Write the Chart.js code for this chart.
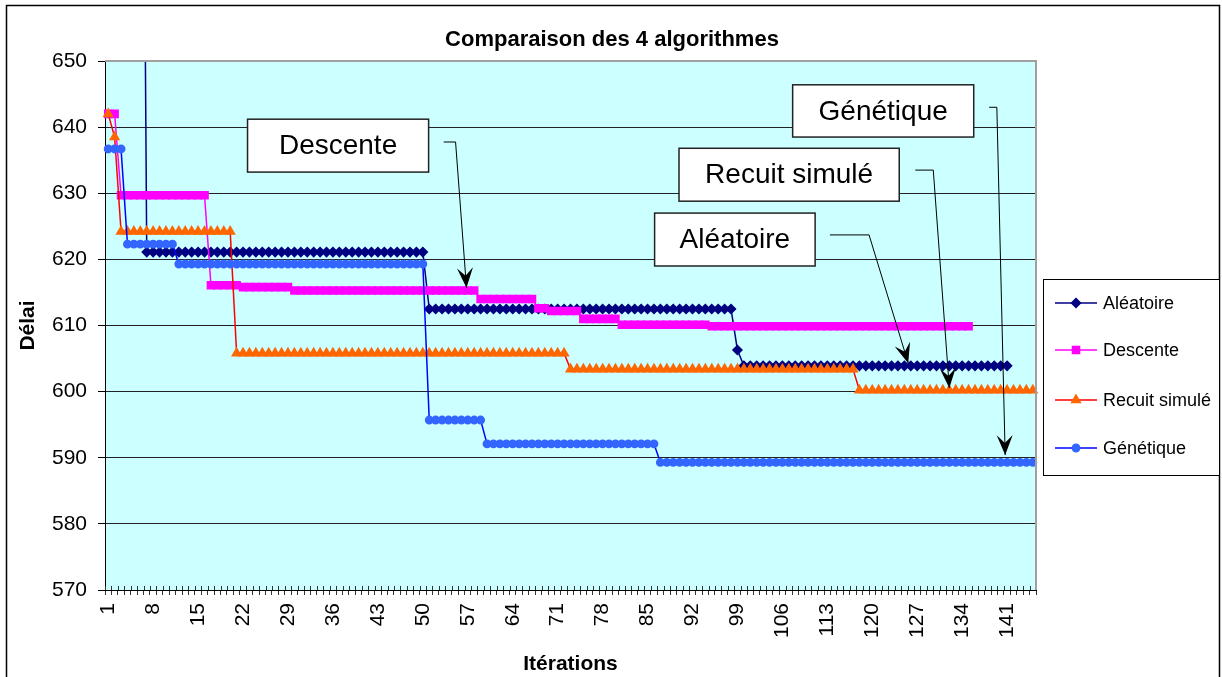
<!DOCTYPE html>
<html lang="fr">
<head>
<meta charset="utf-8">
<title>Comparaison des 4 algorithmes</title>
<script src="https://cdn.jsdelivr.net/npm/chart.js@4"></script>
<style>
  html, body { margin: 0; padding: 0; background: #fff; }
  #wrap { width: 1222px; height: 677px; }
</style>
</head>
<body>
<div id="wrap"><canvas id="algoChart" width="1222" height="677"></canvas></div>
<script>
// iterations 1..145 on the category axis
const iterations = Array.from({ length: 145 }, (_, i) => String(i + 1));

const aleatoire = [
  760, 760, 760, 760, 760, 760,
  621.1, 621.1, 621.1, 621.1, 621.1, 621.1, 621.1, 621.1, 621.1, 621.1,
  621.1, 621.1, 621.1, 621.1, 621.1, 621.1, 621.1, 621.1, 621.1, 621.1,
  621.1, 621.1, 621.1, 621.1, 621.1, 621.1, 621.1, 621.1, 621.1, 621.1,
  621.1, 621.1, 621.1, 621.1, 621.1, 621.1, 621.1, 621.1, 621.1, 621.1,
  621.1, 621.1, 621.1, 621.1,
  612.5, 612.5, 612.5, 612.5, 612.5, 612.5, 612.5, 612.5, 612.5, 612.5,
  612.5, 612.5, 612.5, 612.5, 612.5, 612.5, 612.5, 612.5, 612.5, 612.5,
  612.5, 612.5, 612.5, 612.5, 612.5, 612.5, 612.5, 612.5, 612.5, 612.5,
  612.5, 612.5, 612.5, 612.5, 612.5, 612.5, 612.5, 612.5, 612.5, 612.5,
  612.5, 612.5, 612.5, 612.5, 612.5, 612.5, 612.5, 612.5,
  606.3,
  603.9, 603.9, 603.9, 603.9, 603.9, 603.9, 603.9, 603.9, 603.9, 603.9,
  603.9, 603.9, 603.9, 603.9, 603.9, 603.9, 603.9, 603.9, 603.9, 603.9,
  603.9, 603.9, 603.9, 603.9, 603.9, 603.9, 603.9, 603.9, 603.9, 603.9,
  603.9, 603.9, 603.9, 603.9, 603.9, 603.9, 603.9, 603.9, 603.9, 603.9,
  603.9, 603.9
];

const descente = [
  642, 642,
  629.7, 629.7, 629.7, 629.7, 629.7, 629.7, 629.7, 629.7, 629.7, 629.7,
  629.7, 629.7, 629.7, 629.7,
  616.1, 616.1, 616.1, 616.1, 616.1,
  615.8, 615.8, 615.8, 615.8, 615.8, 615.8, 615.8, 615.8,
  615.3, 615.3, 615.3, 615.3, 615.3, 615.3, 615.3, 615.3, 615.3, 615.3,
  615.3, 615.3, 615.3, 615.3, 615.3, 615.3, 615.3, 615.3, 615.3, 615.3,
  615.3, 615.3, 615.3, 615.3, 615.3, 615.3, 615.3, 615.3, 615.3,
  614, 614, 614, 614, 614, 614, 614, 614, 614,
  612.6, 612.6,
  612.2, 612.2, 612.2, 612.2, 612.2,
  611, 611, 611, 611, 611, 611,
  610.1, 610.1, 610.1, 610.1, 610.1, 610.1, 610.1, 610.1, 610.1, 610.1,
  610.1, 610.1, 610.1, 610.1,
  609.9, 609.9, 609.9, 609.9, 609.9, 609.9, 609.9, 609.9, 609.9, 609.9,
  609.9, 609.9, 609.9, 609.9, 609.9, 609.9, 609.9, 609.9, 609.9, 609.9,
  609.9, 609.9, 609.9, 609.9, 609.9, 609.9, 609.9, 609.9, 609.9, 609.9,
  609.9, 609.9, 609.9, 609.9, 609.9, 609.9, 609.9, 609.9, 609.9, 609.9,
  609.9
];

const recuit = [
  642, 638.5,
  624.2, 624.2, 624.2, 624.2, 624.2, 624.2, 624.2, 624.2, 624.2, 624.2,
  624.2, 624.2, 624.2, 624.2, 624.2, 624.2, 624.2, 624.2,
  605.8, 605.8, 605.8, 605.8, 605.8, 605.8, 605.8, 605.8, 605.8, 605.8,
  605.8, 605.8, 605.8, 605.8, 605.8, 605.8, 605.8, 605.8, 605.8, 605.8,
  605.8, 605.8, 605.8, 605.8, 605.8, 605.8, 605.8, 605.8, 605.8, 605.8,
  605.8, 605.8, 605.8, 605.8, 605.8, 605.8, 605.8, 605.8, 605.8, 605.8,
  605.8, 605.8, 605.8, 605.8, 605.8, 605.8, 605.8, 605.8, 605.8, 605.8,
  605.8, 605.8,
  603.4, 603.4, 603.4, 603.4, 603.4, 603.4, 603.4, 603.4, 603.4, 603.4,
  603.4, 603.4, 603.4, 603.4, 603.4, 603.4, 603.4, 603.4, 603.4, 603.4,
  603.4, 603.4, 603.4, 603.4, 603.4, 603.4, 603.4, 603.4, 603.4, 603.4,
  603.4, 603.4, 603.4, 603.4, 603.4, 603.4, 603.4, 603.4, 603.4, 603.4,
  603.4, 603.4, 603.4, 603.4, 603.4,
  600.2, 600.2, 600.2, 600.2, 600.2, 600.2, 600.2, 600.2, 600.2, 600.2,
  600.2, 600.2, 600.2, 600.2, 600.2, 600.2, 600.2, 600.2, 600.2, 600.2,
  600.2, 600.2, 600.2, 600.2, 600.2, 600.2, 600.2, 600.2
];

const genetique = [
  636.7, 636.7, 636.7,
  622.3, 622.3, 622.3, 622.3, 622.3, 622.3, 622.3, 622.3,
  619.3, 619.3, 619.3, 619.3, 619.3, 619.3, 619.3, 619.3, 619.3, 619.3,
  619.3, 619.3, 619.3, 619.3, 619.3, 619.3, 619.3, 619.3, 619.3, 619.3,
  619.3, 619.3, 619.3, 619.3, 619.3, 619.3, 619.3, 619.3, 619.3, 619.3,
  619.3, 619.3, 619.3, 619.3, 619.3, 619.3, 619.3, 619.3, 619.3,
  595.7, 595.7, 595.7, 595.7, 595.7, 595.7, 595.7, 595.7, 595.7,
  592.1, 592.1, 592.1, 592.1, 592.1, 592.1, 592.1, 592.1, 592.1, 592.1,
  592.1, 592.1, 592.1, 592.1, 592.1, 592.1, 592.1, 592.1, 592.1, 592.1,
  592.1, 592.1, 592.1, 592.1, 592.1, 592.1, 592.1,
  589.3, 589.3, 589.3, 589.3, 589.3, 589.3, 589.3, 589.3, 589.3, 589.3,
  589.3, 589.3, 589.3, 589.3, 589.3, 589.3, 589.3, 589.3, 589.3, 589.3,
  589.3, 589.3, 589.3, 589.3, 589.3, 589.3, 589.3, 589.3, 589.3, 589.3,
  589.3, 589.3, 589.3, 589.3, 589.3, 589.3, 589.3, 589.3, 589.3, 589.3,
  589.3, 589.3, 589.3, 589.3, 589.3, 589.3, 589.3, 589.3, 589.3, 589.3,
  589.3, 589.3, 589.3, 589.3, 589.3, 589.3, 589.3, 589.3, 589.3
];

const yTicks = [570, 580, 590, 600, 610, 620, 630, 640, 650];

// text boxes with arrows, in (iteration index, délai) units
const callouts = [
  { text: "Descente", box: [21.7, 641.2, 49.9, 633.2], path: [[52.25, 637.75], [54.1, 637.75], [55.8, 615.7]] },
  { text: "Génétique", box: [106.6, 646.4, 134.8, 638.5], path: [[137.2, 643.0], [138.4, 643.0], [139.7, 590.4]] },
  { text: "Recuit simulé", box: [88.9, 636.8, 123.2, 628.8], path: [[125.7, 633.5], [128.5, 633.5], [131.0, 600.55]] },
  { text: "Aléatoire", box: [85.1, 627.0, 110.1, 619.0], path: [[112.4, 623.7], [118.5, 623.7], [124.6, 604.3]] },
];

const FONT = '"Liberation Sans", Arial, sans-serif';
Chart.defaults.font.family = FONT;
Chart.defaults.color = "#000";

function drawArrowHead(ctx, from, tip) {
  const dx = tip[0] - from[0], dy = tip[1] - from[1];
  const len = Math.hypot(dx, dy);
  const ux = dx / len, uy = dy / len;
  const nx = -uy, ny = ux;
  const L = 20, W = 16;
  ctx.beginPath();
  ctx.moveTo(tip[0], tip[1]);
  ctx.lineTo(tip[0] - ux * L + nx * W / 2, tip[1] - uy * L + ny * W / 2);
  ctx.lineTo(tip[0] - ux * L * 0.6, tip[1] - uy * L * 0.6);
  ctx.lineTo(tip[0] - ux * L - nx * W / 2, tip[1] - uy * L - ny * W / 2);
  ctx.closePath();
  ctx.fill();
}

const excelLook = {
  id: "excelLook",
  beforeDraw(chart) {
    const { ctx, chartArea: a } = chart;
    ctx.save();
    ctx.fillStyle = "#fff";
    ctx.fillRect(0, 0, chart.width, chart.height);
    ctx.fillStyle = "#CCFFFF";
    ctx.fillRect(a.left, a.top, a.right - a.left, a.bottom - a.top);
    ctx.restore();
  },
  afterDraw(chart) {
    const { ctx, chartArea: a } = chart;
    const xs = chart.scales.x, ys = chart.scales.y;
    const px = (i) => xs.getPixelForValue(i);
    const py = (v) => ys.getPixelForValue(v);
    ctx.save();

    // x tick marks also poke a little above the axis
    ctx.strokeStyle = "#333";
    ctx.lineWidth = 1;
    ctx.beginPath();
    for (let i = 0; i <= iterations.length; i++) {
      const x = Math.round(px(i - 0.5)) + 0.5;
      ctx.moveTo(x, a.bottom - 4);
      ctx.lineTo(x, a.bottom);
    }
    ctx.stroke();

    // plot frame (top / right are grey in the original)
    ctx.strokeStyle = "#a0a0a0";
    ctx.lineWidth = 2;
    ctx.beginPath();
    ctx.moveTo(a.left, a.top);
    ctx.lineTo(a.right, a.top);
    ctx.lineTo(a.right, a.bottom);
    ctx.stroke();

    // outer chart border
    ctx.strokeStyle = "#000";
    ctx.lineWidth = 1.5;
    ctx.strokeRect(6.5, 5.5, 1213, 690);

    // title
    ctx.fillStyle = "#000";
    ctx.font = "bold 22px " + FONT;
    ctx.textAlign = "center";
    ctx.textBaseline = "middle";
    ctx.fillText("Comparaison des 4 algorithmes", 612, 40);

    // callouts
    callouts.forEach((c) => {
      const x0 = px(c.box[0]), y0 = py(c.box[1]);
      const x1 = px(c.box[2]), y1 = py(c.box[3]);
      ctx.fillStyle = "#fff";
      ctx.fillRect(x0, y0, x1 - x0, y1 - y0);
      ctx.strokeStyle = "#222";
      ctx.lineWidth = 1.5;
      ctx.strokeRect(x0, y0, x1 - x0, y1 - y0);
      ctx.fillStyle = "#000";
      ctx.font = "28px " + FONT;
      ctx.fillText(c.text, (x0 + x1) / 2, (y0 + y1) / 2 + 1);

      const pts = c.path.map((p) => [px(p[0]), py(p[1])]);
      ctx.strokeStyle = "#000";
      ctx.lineWidth = 1;
      ctx.beginPath();
      ctx.moveTo(pts[0][0], pts[0][1]);
      ctx.lineTo(pts[1][0], pts[1][1]);
      ctx.lineTo(pts[2][0], pts[2][1]);
      ctx.stroke();
      drawArrowHead(ctx, pts[1], pts[2]);
    });

    // legend
    const lx = 1043.5, ly = 279.5;
    ctx.fillStyle = "#fff";
    ctx.fillRect(lx, ly, 176, 196);
    ctx.strokeStyle = "#000";
    ctx.lineWidth = 1;
    ctx.strokeRect(lx, ly, 176, 196);
    const rows = [303, 350, 400, 448];
    chart.data.datasets.forEach((ds, k) => {
      const y = rows[k];
      ctx.strokeStyle = ds.borderColor;
      ctx.lineWidth = 1.5;
      ctx.beginPath();
      ctx.moveTo(1055, y);
      ctx.lineTo(1097, y);
      ctx.stroke();
      ctx.fillStyle = ds.pointBackgroundColor;
      ctx.strokeStyle = ds.pointBackgroundColor;
      Chart.helpers.drawPoint(ctx, {
        pointStyle: ds.pointStyle,
        radius: ds.pointRadius,
        rotation: 0,
        borderWidth: 1,
      }, 1076, y);
      ctx.fillStyle = "#000";
      ctx.font = "18px " + FONT;
      ctx.textAlign = "left";
      ctx.fillText(ds.label, 1103, y + 1);
      ctx.textAlign = "center";
    });

    ctx.restore();
  },
};

function renderChart() {
  const ctx = document.getElementById("algoChart").getContext("2d");

  new Chart(ctx, {
    type: "line",
    data: {
      labels: iterations,
      datasets: [
        {
          label: "Aléatoire",
          data: aleatoire,
          borderColor: "#000080",
          pointBackgroundColor: "#000080",
          pointBorderColor: "#000080",
          pointStyle: "rectRot",
          pointRadius: 4.5,
          borderWidth: 1.5,
          order: 4,
        },
        {
          label: "Descente",
          data: descente,
          borderColor: "#FF00FF",
          pointBackgroundColor: "#FF00FF",
          pointBorderColor: "#FF00FF",
          pointStyle: "rect",
          pointRadius: 5,
          borderWidth: 1.5,
          order: 3,
        },
        {
          label: "Recuit simulé",
          data: recuit,
          borderColor: "#FF0000",
          pointBackgroundColor: "#FF6600",
          pointBorderColor: "#FF6600",
          pointStyle: "triangle",
          pointRadius: 5,
          borderWidth: 1.5,
          order: 2,
        },
        {
          label: "Génétique",
          data: genetique,
          borderColor: "#0000FF",
          pointBackgroundColor: "#3366FF",
          pointBorderColor: "#3366FF",
          pointStyle: "circle",
          pointRadius: 3.7,
          borderWidth: 1.5,
          order: 1,
        },
      ],
    },
    options: {
      responsive: false,
      animation: false,
      layout: { padding: { top: 61, right: 186, left: 5, bottom: 0 } },
      elements: { line: { tension: 0 }, point: { borderWidth: 1 } },
      plugins: {
        legend: { display: false },
        title: { display: false },
        tooltip: { enabled: false },
      },
      scales: {
        x: {
          offset: true,
          grid: { drawOnChartArea: false, drawTicks: true, tickLength: 5, color: "#333", offset: true },
          border: { color: "#000", width: 1 },
          ticks: {
            autoSkip: false,
            maxRotation: 90,
            minRotation: 90,
            padding: 8,
            font: { size: 21 },
            color: "#000",
            callback: function (val, i) {
              return i % 7 === 0 ? this.getLabelForValue(val) : "";
            },
          },
          title: {
            display: true,
            text: "Itérations",
            font: { size: 21, weight: "bold" },
            color: "#000",
            padding: { top: 7, bottom: 0 },
          },
          afterFit(scale) { scale.height = 87; },
        },
        y: {
          min: yTicks[0],
          max: yTicks[yTicks.length - 1],
          afterBuildTicks(scale) { scale.ticks = yTicks.map((v) => ({ value: v })); },
          grid: {
            color: (c) => (c.tick && c.tick.value === 650 ? "#a0a0a0" : "#222"),
            tickColor: "#000",
            lineWidth: 1,
            tickLength: 7,
          },
          border: { color: "#000", width: 1 },
          ticks: { padding: 11, font: { size: 21 }, color: "#000" },
          title: {
            display: true,
            text: "Délai",
            font: { size: 21, weight: "bold" },
            color: "#000",
            padding: { top: 11, bottom: 0 },
          },
          afterFit(scale) { scale.width = 100; },
        },
      },
    },
    plugins: [excelLook],
  });
}

document.addEventListener("DOMContentLoaded", renderChart);
</script>
</body>
</html>
